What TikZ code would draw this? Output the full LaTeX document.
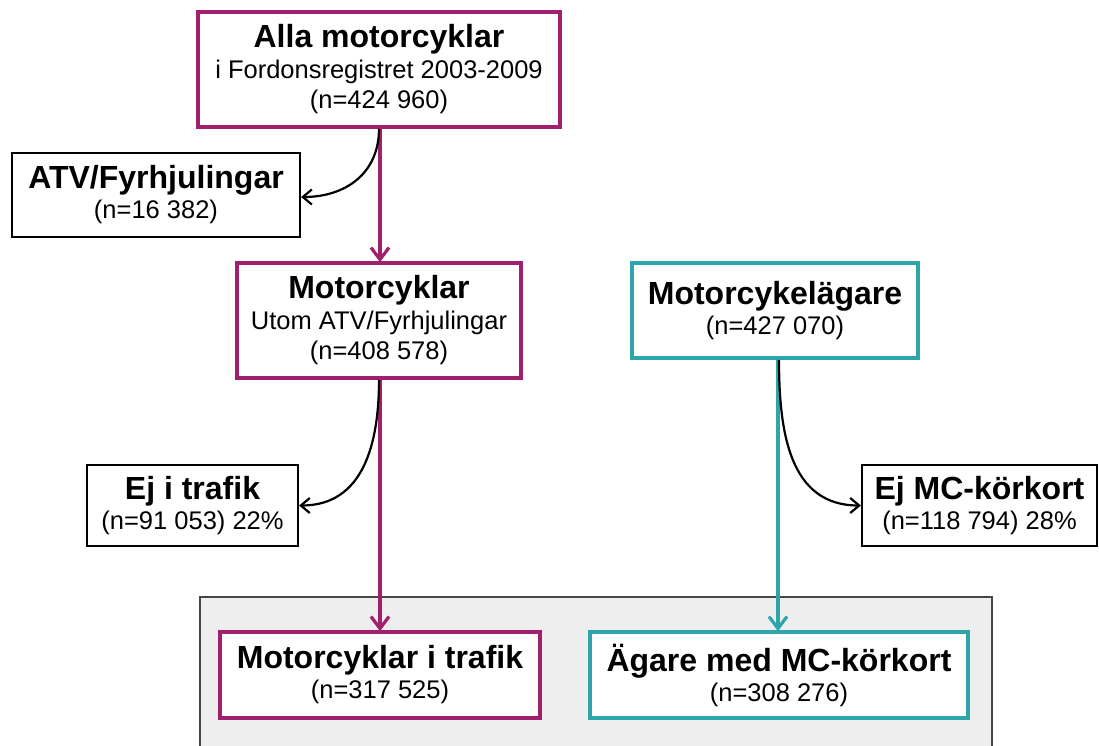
\documentclass[tikz,border=0pt]{standalone}
\usepackage{fontspec}
\setmainfont{Liberation Sans}
\usetikzlibrary{arrows.meta}
\definecolor{mag}{RGB}{160,32,110}
\definecolor{teal2}{RGB}{46,165,170}
\definecolor{grayfill}{RGB}{238,238,238}
\definecolor{grayline}{RGB}{70,70,70}
\newcommand{\ttl}[1]{{\fontsize{32}{35}\selectfont\bfseries #1}}
\begin{document}
\begin{tikzpicture}[x=1pt,y=-1pt,
  box/.style={draw, fill=white, inner sep=0pt, align=center, font=\fontsize{25.5}{30}\selectfont},
  magbox/.style={box, draw=mag, line width=3.6pt},
  tealbox/.style={box, draw=teal2, line width=3.6pt},
  blackbox/.style={box, draw=black, line width=2.2pt},
  magarrow/.style={-{Straight Barb[length=12pt,width=18pt,line width=3.2pt]}, draw=mag, line width=3.2pt},
  tealarrow/.style={-{Straight Barb[length=12pt,width=18pt,line width=3.2pt]}, draw=teal2, line width=3.2pt},
  curvearrow/.style={-{Straight Barb[length=9pt,width=15pt,line width=2.2pt]}, draw=black, line width=2.2pt}
]
\useasboundingbox (0,0) rectangle (1099,746);
% gray background region
\fill[grayfill] (200,597) rectangle (992,746);
\draw[grayline, line width=2.2pt] (200,746) -- (200,597) -- (992,597) -- (992,746);

\node[magbox, minimum width=362pt, minimum height=115pt] (alla) at (379,69.5)
  {\ttl{Alla motorcyklar}\\[1pt] i Fordonsregistret 2003-2009\\ (n=424 960)};
\node[blackbox, minimum width=288pt, minimum height=84pt] (atv) at (156,195)
  {\ttl{ATV/Fyrhjulingar}\\ (n=16 382)};
\node[magbox, minimum width=284pt, minimum height=115pt] (mc) at (379,320.5)
  {\ttl{Motorcyklar}\\[1pt] Utom ATV/Fyrhjulingar\\ (n=408 578)};
\node[tealbox, minimum width=286pt, minimum height=95pt] (agare) at (775,310.5)
  {\ttl{Motorcykelägare}\\ (n=427 070)};
\node[blackbox, minimum width=211pt, minimum height=81pt] (ejtrafik) at (192.5,505.5)
  {\ttl{Ej i trafik}\\ (n=91 053) 22\%};
\node[blackbox, minimum width=235pt, minimum height=81pt] (ejmc) at (979.5,505.5)
  {\ttl{Ej MC-körkort}\\ (n=118 794) 28\%};
\node[magbox, minimum width=320pt, minimum height=86pt] (mctrafik) at (380,675)
  {\ttl{Motorcyklar i trafik}\\ (n=317 525)};
\node[tealbox, minimum width=378pt, minimum height=86pt] (agaremc) at (779,675)
  {\ttl{Ägare med MC-körkort}\\ (n=308 276)};

\coordinate (a1) at ([xshift=1pt]alla.south);
\coordinate (m1) at ([xshift=1pt]mc.south);
\coordinate (t1) at ([xshift=3pt]agare.south);

\draw[magarrow] (a1) -- ([yshift=-1pt]a1 |- mc.north);
\draw[curvearrow] ([xshift=-1pt]a1) to[out=-90,in=0,looseness=1.1] ([yshift=-2pt]atv.east);
\draw[magarrow] (m1) -- ([yshift=-1pt]m1 |- mctrafik.north);
\draw[curvearrow] ([xshift=-1pt]m1) to[out=-90,in=0,looseness=1.1] (ejtrafik.east);
\draw[tealarrow] (t1) -- ([yshift=-1pt]t1 |- agaremc.north);
\draw[curvearrow] ([xshift=1pt]t1) to[out=-90,in=180,looseness=1.1] (ejmc.west);
\end{tikzpicture}
\end{document}
